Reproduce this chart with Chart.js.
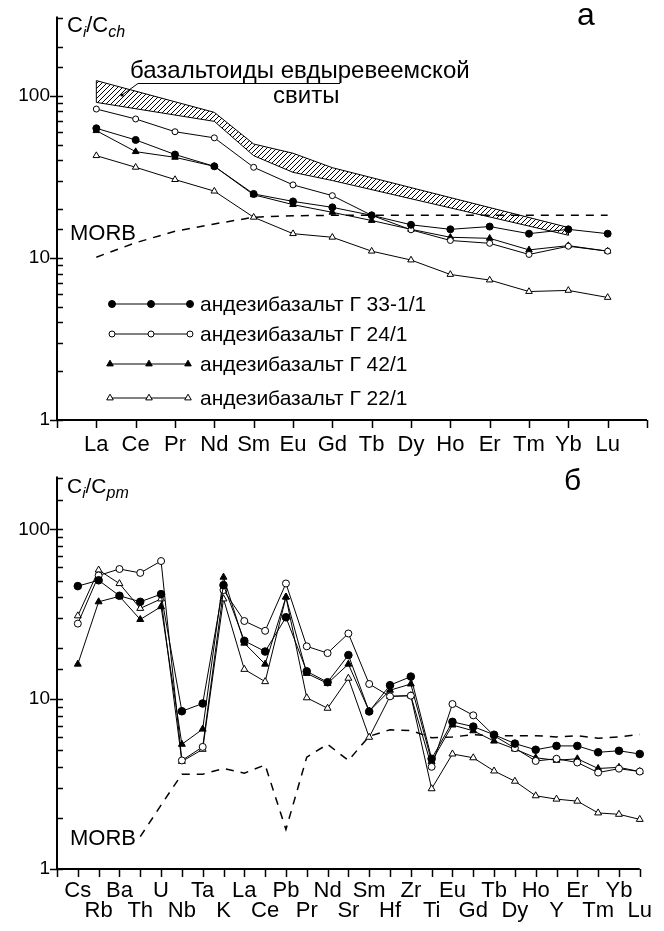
<!DOCTYPE html>
<html>
<head>
<meta charset="utf-8">
<script src="https://cdn.jsdelivr.net/npm/chart.js@4/dist/chart.umd.min.js"></script>
<style>
  html, body { margin: 0; padding: 0; background: #fff; }
  #c1 { position: absolute; left: 0; top: 0; }
  #c2 { position: absolute; left: 0; top: 460px; }
</style>
</head>
<body>
<canvas id="c1" width="664" height="460"></canvas>
<canvas id="c2" width="664" height="471"></canvas>
<script>
// ---------- data: chondrite-normalized REE (panel a) ----------
const reeLabels = ["La", "Ce", "Pr", "Nd", "Sm", "Eu", "Gd", "Tb", "Dy", "Ho", "Er", "Tm", "Yb", "Lu"];
const g33Ch = [63, 53.4, 43.4, 36.7, 24.8, 22.3, 20.5, 18.3, 16, 15, 15.6, 14.1, 15, 14.1];
const g24Ch = [82.8, 71.9, 60, 55, 36.2, 28.2, 24.2, 18.3, 14.9, 12.8, 12.3, 10.5, 11.8, 11];
const g42Ch = [60.9, 45.2, 41.7, 36.7, 24.5, 21.3, 19.1, 17, 15, 13.4, 13.2, 11.2, 11.9, 11];
const g22Ch = [42.7, 36.2, 30.4, 25.8, 17.8, 14.1, 13.4, 11, 9.7, 7.9, 7.3, 6.2, 6.3, 5.7];
const morbCh = [10.1, 12.4, 14.6, 16.2, 17.8, 18.2, 18.3, 18.3, 18.3, 18.3, 18.3, 18.3, 18.3, 18.3];
// field of the Evdyreveem suite basaltoids
const bandIdx = [0, 3, 4, 5, 6, 12];
const bandTop = [124, 79, 50.4, 44.2, 36, 15.4];
const bandBot = [91, 69.5, 42.7, 33.7, 30, 13.8];

// ---------- data: primitive-mantle normalized spider (panel б) ----------
const spiderLabels = ["Cs", "Rb", "Ba", "Th", "U", "Nb", "Ta", "K", "La", "Ce", "Pb", "Pr", "Nd", "Sr",
  "Sm", "Hf", "Zr", "Ti", "Eu", "Gd", "Tb", "Dy", "Ho", "Y", "Er", "Tm", "Yb", "Lu"];
const g33Pm = [46.4, 50.2, 40.7, 37.5, 41.6, 8.5, 9.44, 47, 22.1, 19.1, 30.4, 14.6, 12.6, 18.2,
  8.47, 12.1, 13.6, 4.46, 7.36, 6.9, 6.18, 5.48, 5.04, 5.31, 5.31, 4.87, 4.97, 4.76];
const g24Pm = [27.9, 53.6, 58.5, 55.5, 65.2, 4.36, 5.24, 44, 28.9, 25.3, 48.1, 20.5, 18.7, 24.4,
  12.3, 10.4, 10.5, 4.0, 9.37, 8.04, 6.1, 5.15, 4.33, 4.46, 4.24, 3.7, 3.9, 3.75];
const g42Pm = [16.1, 37.5, 40.4, 29.5, 35.1, 5.43, 6.67, 52.4, 21.4, 16.1, 40, 14.2, 12.4, 16.1,
  8.5, 11.3, 12.3, 4.3, 7.05, 6.52, 5.67, 5.09, 4.52, 4.37, 4.46, 3.91, 3.97, 3.75];
const g22Pm = [31, 57.7, 48, 34.3, 39, 4.3, 5.07, 39, 15, 12.7, 40, 10.2, 8.85, 13.3,
  5.97, 10.4, 10.5, 2.97, 4.76, 4.52, 3.78, 3.29, 2.7, 2.58, 2.51, 2.14, 2.1, 1.96];
const morbPm = [null, null, null, 1.55, 2.38, 3.62, 3.62, 3.91, 3.67, 4.1, 1.71, 4.56, 5.43, 4.36,
  6.05, 6.61, 6.55, 5.93, 6.0, 6.18, 6.1, 6.1, 6.1, 6.0, 6.1, 5.9, 6.0, 6.2];

const sampleNames = ["андезибазальт Г 33-1/1", "андезибазальт Г 24/1", "андезибазальт Г 42/1", "андезибазальт Г 22/1"];
const yLabelled = [1, 10, 100];

// =====================
// STYLE HELPERS
// =====================
const FONT = '"Liberation Sans", Arial, sans-serif';
const marks = [
  { shape: "circle", fill: "#000", r: 3.5 },
  { shape: "circle", fill: "#fff", r: 3 },
  { shape: "triangle", fill: "#000", r: 3.8 },
  { shape: "triangle", fill: "#fff", r: 3.8 }
];

function pts(arr) {
  return arr.map((v, i) => ({ x: i, y: v })).filter(p => p.y != null);
}

function sampleSet(name, arr, m, grow) {
  return {
    label: name,
    data: pts(arr),
    borderColor: "#000",
    borderWidth: 1,
    pointStyle: m.shape,
    pointRadius: m.r + grow,
    pointBackgroundColor: m.fill,
    pointBorderColor: "#000",
    pointBorderWidth: 1,
    clip: false
  };
}

function morbSet(arr) {
  return {
    label: "MORB",
    data: pts(arr),
    borderColor: "#000",
    borderWidth: 1.5,
    borderDash: [8, 7],
    pointRadius: 0,
    clip: false
  };
}

function drawMark(ctx, m, x, y, r) {
  ctx.save();
  ctx.fillStyle = m.fill;
  ctx.strokeStyle = "#000";
  ctx.lineWidth = 1;
  ctx.beginPath();
  if (m.shape === "circle") {
    ctx.arc(x, y, r, 0, Math.PI * 2);
  } else {
    ctx.moveTo(x, y - r);
    ctx.lineTo(x + r * 0.866, y + r * 0.5);
    ctx.lineTo(x - r * 0.866, y + r * 0.5);
    ctx.closePath();
  }
  ctx.fill();
  ctx.stroke();
  ctx.restore();
}

function richText(ctx, parts, x, y) {
  parts.forEach(p => {
    ctx.font = p.font;
    ctx.fillText(p.t, x, y + (p.dy || 0));
    x += ctx.measureText(p.t).width;
  });
}

// hatch pattern for the band
function makeHatch(ctx) {
  const pc = document.createElement("canvas");
  pc.width = 5; pc.height = 5;
  const p = pc.getContext("2d");
  p.strokeStyle = "#000";
  p.lineWidth = 1;
  p.beginPath();
  p.moveTo(0, 5); p.lineTo(5, 0);
  p.moveTo(-1, 1); p.lineTo(1, -1);
  p.moveTo(4, 6); p.lineTo(6, 4);
  p.stroke();
  return ctx.createPattern(pc, "repeat");
}

// axes + ticks drawn from the chart's scales
const axesPlugin = {
  id: "axes",
  afterDraw(chart) {
    const { ctx, chartArea: a, scales: { x, y } } = chart;
    ctx.save();
    ctx.strokeStyle = "#000";
    ctx.lineWidth = 2;
    ctx.beginPath();
    ctx.moveTo(a.left, a.top - 2);
    ctx.lineTo(a.left, a.bottom);
    ctx.lineTo(a.right, a.bottom);
    ctx.stroke();
    ctx.lineWidth = 1.5;
    ctx.beginPath();
    y.ticks.forEach(t => {
      const py = Math.round(y.getPixelForValue(t.value)) + 0.5;
      const major = yLabelled.includes(t.value);
      ctx.moveTo(a.left - (major ? 7 : 0), py);
      ctx.lineTo(a.left + 6, py);
    });
    x.ticks.forEach(t => {
      const px = Math.round(x.getPixelForValue(t.value)) + 0.5;
      ctx.moveTo(px, a.bottom);
      ctx.lineTo(px, a.bottom + 8);
    });
    ctx.stroke();
    ctx.restore();
  }
};

function yScale(max) {
  return {
    type: "logarithmic",
    min: 1,
    max: max,
    afterFit: s => { s.width = 57; },
    grid: { display: false, drawTicks: false },
    border: { display: false },
    ticks: {
      autoSkip: false,
      padding: 7,
      color: "#000",
      font: { family: FONT, size: 19 },
      callback: v => yLabelled.includes(v) ? String(v) : ""
    }
  };
}

// =====================
// PANEL а : REE
// =====================
const ctx1 = document.getElementById("c1").getContext("2d");
const bandPoly = bandIdx.map((x, i) => ({ x: x, y: bandTop[i] }))
  .concat(bandIdx.map((x, i) => ({ x: x, y: bandBot[i] })).reverse());
bandPoly.push(bandPoly[0]);

const textA = {
  id: "textA",
  afterDraw(chart) {
    const c = chart.ctx;
    c.save();
    c.fillStyle = "#000";
    c.textBaseline = "alphabetic";
    richText(c, [
      { t: "C", font: "22px " + FONT },
      { t: "i", font: "italic 15px " + FONT, dy: 5 },
      { t: "/C", font: "22px " + FONT },
      { t: "ch", font: "italic 16px " + FONT, dy: 5 }
    ], 67, 32);
    c.font = "32px " + FONT;
    c.fillText("а", 577, 25);
    c.font = "22px " + FONT;
    c.fillText("MORB", 70, 240);
    c.font = "24px " + FONT;
    c.fillText("базальтоиды евдыревеемской", 130, 78);
    c.fillText("свиты", 273, 103);
    // leader line
    c.strokeStyle = "#000";
    c.lineWidth = 1;
    c.beginPath();
    c.moveTo(122, 95);
    c.lineTo(138, 83.5);
    c.lineTo(340, 83.5);
    c.stroke();
    c.beginPath();
    c.arc(122, 95, 1.6, 0, Math.PI * 2);
    c.fill();
    // legend
    const rows = [304, 334, 364, 398];
    c.font = "21px " + FONT;
    c.textBaseline = "middle";
    rows.forEach((ry, i) => {
      const x0 = i < 2 ? 112 : 110;
      c.beginPath();
      c.moveTo(x0, ry);
      c.lineTo(x0 + 78, ry);
      c.stroke();
      [0, 39, 78].forEach(dx => drawMark(c, marks[i], x0 + dx, ry, marks[i].r));
      c.fillText(sampleNames[i], 200, ry + 1);
    });
    c.restore();
  }
};

new Chart(ctx1, {
  type: "line",
  data: {
    datasets: [
      sampleSet(sampleNames[0], g33Ch, marks[0], 0),
      sampleSet(sampleNames[1], g24Ch, marks[1], 0),
      sampleSet(sampleNames[2], g42Ch, marks[2], 0),
      sampleSet(sampleNames[3], g22Ch, marks[3], 0),
      morbSet(morbCh),
      {
        label: "band",
        data: bandPoly,
        fill: "shape",
        backgroundColor: makeHatch(ctx1),
        borderColor: "#000",
        borderWidth: 1,
        pointRadius: 0,
        clip: false
      }
    ]
  },
  options: {
    responsive: false,
    animation: false,
    events: [],
    layout: { padding: { top: 17, right: 17, left: 0, bottom: 0 } },
    plugins: { legend: { display: false }, tooltip: { enabled: false } },
    scales: {
      x: {
        type: "linear",
        min: -1,
        max: 14,
        afterFit: s => { s.height = 40; },
        grid: { display: false, drawTicks: false },
        border: { display: false },
        ticks: {
          stepSize: 1,
          autoSkip: false,
          maxRotation: 0,
          padding: 12,
          color: "#000",
          font: { family: FONT, size: 22 },
          callback: v => reeLabels[v] || ""
        }
      },
      y: yScale(300)
    }
  },
  plugins: [axesPlugin, textA]
});

// =====================
// PANEL б : SPIDER
// =====================
const ctx2 = document.getElementById("c2").getContext("2d");

const textB = {
  id: "textB",
  afterDraw(chart) {
    const c = chart.ctx;
    c.save();
    c.fillStyle = "#000";
    c.textBaseline = "alphabetic";
    richText(c, [
      { t: "C", font: "21px " + FONT },
      { t: "i", font: "italic 15px " + FONT, dy: 5 },
      { t: "/C", font: "21px " + FONT },
      { t: "pm", font: "italic 16px " + FONT, dy: 5 }
    ], 67, 33);
    c.font = "30px " + FONT;
    c.fillText("б", 564, 30);
    c.font = "22px " + FONT;
    c.fillText("MORB", 70, 385);
    c.restore();
  }
};

new Chart(ctx2, {
  type: "line",
  data: {
    datasets: [
      sampleSet(sampleNames[0], g33Pm, marks[0], 0.3),
      sampleSet(sampleNames[1], g24Pm, marks[1], 0.5),
      sampleSet(sampleNames[2], g42Pm, marks[2], 0.2),
      sampleSet(sampleNames[3], g22Pm, marks[3], 0.2),
      morbSet(morbPm)
    ]
  },
  options: {
    responsive: false,
    animation: false,
    events: [],
    layout: { padding: { top: 4, right: 17, left: 0, bottom: 0 } },
    plugins: { legend: { display: false }, tooltip: { enabled: false } },
    scales: {
      x: {
        type: "linear",
        min: -1,
        max: 27,
        afterFit: s => { s.height = 62; },
        grid: { display: false, drawTicks: false },
        border: { display: false },
        ticks: {
          stepSize: 1,
          autoSkip: false,
          maxRotation: 0,
          padding: 12,
          color: "#000",
          font: { family: FONT, size: 22, lineHeight: "20px" },
          callback: v => {
            const n = spiderLabels[v];
            if (!n) return "";
            return v % 2 === 0 ? [n, " "] : [" ", n];
          }
        }
      },
      y: yScale(200)
    }
  },
  plugins: [axesPlugin, textB]
});
</script>
</body>
</html>
